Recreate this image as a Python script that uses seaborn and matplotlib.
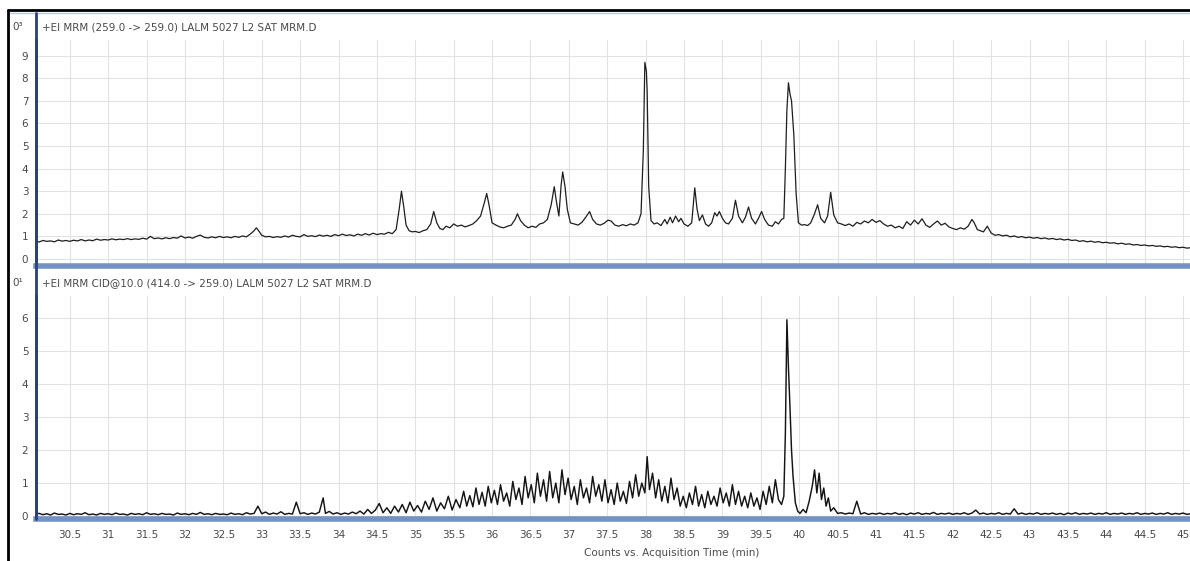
import matplotlib
matplotlib.use("Agg")
import matplotlib.pyplot as plt
from matplotlib.lines import Line2D
import seaborn as sns
import pandas as pd

# ---------------- data (counts x10^n vs. acquisition time, min) ----------------
upper_time = [
    30.05, 30.1, 30.15, 30.2, 30.25, 30.3, 30.35, 30.4, 30.45, 30.5, 30.55, 30.6, 30.65, 30.7, 30.75,
    30.8, 30.85, 30.9, 30.95, 31.0, 31.05, 31.1, 31.15, 31.2, 31.25, 31.3, 31.35, 31.4, 31.45, 31.5,
    31.55, 31.6, 31.65, 31.7, 31.75, 31.8, 31.85, 31.9, 31.95, 32.0, 32.05, 32.1, 32.15, 32.2, 32.25,
    32.3, 32.35, 32.4, 32.45, 32.5, 32.55, 32.6, 32.65, 32.7, 32.75, 32.8, 32.85, 32.9, 32.93, 32.97,
    33.0, 33.05, 33.1, 33.15, 33.2, 33.25, 33.3, 33.35, 33.4, 33.45, 33.5, 33.55, 33.6, 33.65, 33.7,
    33.75, 33.8, 33.85, 33.9, 33.95, 34.0, 34.05, 34.1, 34.15, 34.2, 34.25, 34.3, 34.35, 34.4, 34.45,
    34.5, 34.55, 34.6, 34.65, 34.7, 34.75, 34.79, 34.82, 34.85, 34.88, 34.92, 34.96, 35.0, 35.05, 35.1,
    35.15, 35.2, 35.24, 35.28, 35.32, 35.36, 35.4, 35.45, 35.5, 35.55, 35.6, 35.65, 35.7, 35.75, 35.8,
    35.85, 35.9, 35.93, 35.96, 36.0, 36.05, 36.1, 36.15, 36.2, 36.25, 36.3, 36.33, 36.37, 36.42, 36.47,
    36.52, 36.57, 36.62, 36.67, 36.72, 36.77, 36.81, 36.84, 36.87, 36.9, 36.92, 36.95, 36.98, 37.02,
    37.07, 37.12, 37.17, 37.22, 37.27, 37.31, 37.36, 37.41, 37.46, 37.51, 37.55, 37.6, 37.65, 37.7,
    37.75, 37.8, 37.85, 37.9, 37.94, 37.97, 37.99, 38.01, 38.02, 38.04, 38.07, 38.11, 38.15, 38.2,
    38.25, 38.28, 38.32, 38.35, 38.39, 38.43, 38.46, 38.5, 38.55, 38.6, 38.64, 38.67, 38.7, 38.74,
    38.78, 38.82, 38.86, 38.9, 38.93, 38.96, 39.0, 39.04, 39.08, 39.13, 39.17, 39.21, 39.26, 39.3,
    39.34, 39.38, 39.43, 39.47, 39.51, 39.55, 39.6, 39.65, 39.69, 39.73, 39.77, 39.8, 39.82, 39.84,
    39.86, 39.88, 39.9, 39.93, 39.96, 39.99, 40.03, 40.07, 40.11, 40.15, 40.2, 40.24, 40.28, 40.33,
    40.37, 40.41, 40.45, 40.5, 40.55, 40.6, 40.65, 40.7, 40.75, 40.8, 40.85, 40.9, 40.95, 41.0, 41.05,
    41.1, 41.15, 41.2, 41.25, 41.3, 41.35, 41.4, 41.45, 41.5, 41.55, 41.6, 41.65, 41.7, 41.75, 41.8,
    41.85, 41.9, 41.95, 42.0, 42.05, 42.1, 42.15, 42.2, 42.25, 42.28, 42.32, 42.36, 42.4, 42.45, 42.5,
    42.55, 42.6, 42.65, 42.7, 42.75, 42.8, 42.85, 42.9, 42.95, 43.0, 43.05, 43.1, 43.15, 43.2, 43.25,
    43.3, 43.35, 43.4, 43.45, 43.5, 43.55, 43.6, 43.65, 43.7, 43.75, 43.8, 43.85, 43.9, 43.95, 44.0,
    44.05, 44.1, 44.15, 44.2, 44.25, 44.3, 44.35, 44.4, 44.45, 44.5, 44.55, 44.6, 44.65, 44.7, 44.75,
    44.8, 44.85, 44.9, 44.95, 45.0, 45.05, 45.1,
]
upper_counts = [
    0.80, 0.75, 0.82, 0.78, 0.80, 0.76, 0.84, 0.79, 0.82, 0.78, 0.83, 0.80, 0.86, 0.80, 0.84,
    0.81, 0.88, 0.83, 0.86, 0.84, 0.89, 0.85, 0.88, 0.86, 0.90, 0.86, 0.89, 0.87, 0.92, 0.88,
    1.00, 0.90, 0.93, 0.89, 0.94, 0.90, 0.95, 0.92, 1.02, 0.93, 0.97, 0.92, 1.00, 1.06, 0.96,
    0.93, 0.98, 0.94, 1.00, 0.95, 0.98, 0.94, 1.00, 0.96, 1.02, 0.98, 1.10, 1.25, 1.38, 1.20,
    1.05, 0.98, 1.00, 0.95, 0.99, 0.96, 1.02, 0.97, 1.05, 1.00, 0.98, 1.08, 1.00, 1.03, 0.99,
    1.06, 1.01, 1.05, 1.00, 1.08, 1.03, 1.10, 1.04, 1.07, 1.02, 1.10, 1.05, 1.12, 1.06, 1.14,
    1.08, 1.12, 1.10, 1.18, 1.12, 1.30, 2.20, 3.00, 2.30, 1.50, 1.25, 1.20, 1.22, 1.17, 1.25,
    1.30, 1.55, 2.10, 1.60, 1.35, 1.30, 1.45, 1.38, 1.55, 1.45, 1.50, 1.42, 1.48, 1.55, 1.70,
    1.90, 2.50, 2.90, 2.40, 1.60, 1.50, 1.42, 1.38, 1.45, 1.50, 1.75, 2.00, 1.70, 1.50, 1.38,
    1.45, 1.40, 1.55, 1.60, 1.75, 2.40, 3.20, 2.50, 1.90, 3.30, 3.85, 3.20, 2.20, 1.60,
    1.55, 1.50, 1.62, 1.85, 2.10, 1.75, 1.55, 1.50, 1.58, 1.72, 1.68, 1.50, 1.45, 1.52,
    1.47, 1.55, 1.50, 1.60, 2.00, 4.80, 8.70, 8.30, 7.40, 3.20, 1.70, 1.55, 1.60, 1.48,
    1.75, 1.55, 1.85, 1.60, 1.90, 1.65, 1.80, 1.55, 1.45, 1.60, 3.15, 2.20, 1.70, 1.95,
    1.55, 1.45, 1.60, 2.05, 1.90, 2.10, 1.80, 1.60, 1.55, 1.80, 2.60, 1.90, 1.60, 1.85,
    2.30, 1.80, 1.55, 1.80, 2.10, 1.75, 1.50, 1.45, 1.65, 1.55, 1.75, 1.80, 4.00, 6.60,
    7.80, 7.30, 7.00, 5.50, 2.90, 1.60, 1.50, 1.52, 1.48, 1.60, 2.00, 2.40, 1.80, 1.60,
    1.90, 2.95, 1.95, 1.60, 1.55, 1.48, 1.55, 1.45, 1.62, 1.55, 1.68, 1.60, 1.75, 1.62, 1.70,
    1.55, 1.45, 1.50, 1.38, 1.45, 1.35, 1.65, 1.50, 1.72, 1.55, 1.78, 1.50, 1.40, 1.55, 1.68,
    1.50, 1.58, 1.42, 1.35, 1.30, 1.38, 1.32, 1.45, 1.75, 1.60, 1.30, 1.25, 1.20, 1.45, 1.15,
    1.05, 1.08, 1.02, 1.05, 0.98, 1.02, 0.96, 0.99, 0.94, 0.97, 0.92, 0.95, 0.90, 0.93, 0.88,
    0.91, 0.86, 0.89, 0.84, 0.87, 0.82, 0.84, 0.78, 0.81, 0.76, 0.79, 0.74, 0.77, 0.72, 0.74,
    0.70, 0.72, 0.67, 0.70, 0.65, 0.67, 0.62, 0.64, 0.60, 0.62, 0.58, 0.60, 0.56, 0.58, 0.54,
    0.56, 0.52, 0.54, 0.50, 0.52, 0.48, 0.50,
]

lower_time = [
    30.05, 30.1, 30.15, 30.2, 30.25, 30.3, 30.35, 30.4, 30.45, 30.5, 30.55, 30.6, 30.65, 30.7, 30.75,
    30.8, 30.85, 30.9, 30.95, 31.0, 31.05, 31.1, 31.15, 31.2, 31.25, 31.3, 31.35, 31.4, 31.45, 31.5,
    31.55, 31.6, 31.65, 31.7, 31.75, 31.8, 31.85, 31.9, 31.95, 32.0, 32.05, 32.1, 32.15, 32.2, 32.25,
    32.3, 32.35, 32.4, 32.45, 32.5, 32.55, 32.6, 32.65, 32.7, 32.75, 32.8, 32.85, 32.9, 32.95, 33.0,
    33.05, 33.1, 33.15, 33.2, 33.25, 33.3, 33.35, 33.4, 33.45, 33.5, 33.55, 33.6, 33.65, 33.7, 33.75,
    33.8, 33.83, 33.88, 33.93, 33.98, 34.03, 34.08, 34.13, 34.18, 34.23, 34.28, 34.33, 34.38, 34.43,
    34.48, 34.53, 34.58, 34.63, 34.68, 34.73, 34.78, 34.83, 34.88, 34.93, 34.98, 35.03, 35.08, 35.13,
    35.18, 35.23, 35.28, 35.33, 35.38, 35.43, 35.48, 35.53, 35.58, 35.63, 35.67, 35.71, 35.75, 35.79,
    35.83, 35.87, 35.91, 35.95, 35.99, 36.03, 36.07, 36.11, 36.15, 36.19, 36.23, 36.27, 36.31, 36.35,
    36.39, 36.43, 36.47, 36.51, 36.55, 36.59, 36.63, 36.67, 36.71, 36.75, 36.79, 36.83, 36.87, 36.91,
    36.95, 36.99, 37.03, 37.07, 37.11, 37.15, 37.19, 37.23, 37.27, 37.31, 37.35, 37.39, 37.43, 37.47,
    37.51, 37.55, 37.59, 37.63, 37.67, 37.71, 37.75, 37.79, 37.83, 37.87, 37.91, 37.95, 37.99, 38.02,
    38.05, 38.09, 38.13, 38.17, 38.21, 38.25, 38.29, 38.33, 38.37, 38.41, 38.45, 38.49, 38.53, 38.57,
    38.61, 38.65, 38.69, 38.73, 38.77, 38.81, 38.85, 38.89, 38.93, 38.97, 39.01, 39.05, 39.09, 39.13,
    39.17, 39.21, 39.25, 39.29, 39.33, 39.37, 39.41, 39.45, 39.49, 39.53, 39.57, 39.61, 39.65, 39.69,
    39.73, 39.77, 39.8, 39.82, 39.84, 39.86, 39.88, 39.9, 39.92, 39.95, 39.98, 40.01, 40.05, 40.09,
    40.13, 40.17, 40.2, 40.23, 40.26, 40.29, 40.32, 40.35, 40.38, 40.41, 40.45, 40.5, 40.55, 40.6,
    40.65, 40.7, 40.75, 40.8, 40.85, 40.9, 40.95, 41.0, 41.05, 41.1, 41.15, 41.2, 41.25, 41.3, 41.35,
    41.4, 41.45, 41.5, 41.55, 41.6, 41.65, 41.7, 41.75, 41.8, 41.85, 41.9, 41.95, 42.0, 42.05, 42.1,
    42.15, 42.2, 42.25, 42.3, 42.35, 42.4, 42.45, 42.5, 42.55, 42.6, 42.65, 42.7, 42.75, 42.8, 42.85,
    42.9, 42.95, 43.0, 43.05, 43.1, 43.15, 43.2, 43.25, 43.3, 43.35, 43.4, 43.45, 43.5, 43.55, 43.6,
    43.65, 43.7, 43.75, 43.8, 43.85, 43.9, 43.95, 44.0, 44.05, 44.1, 44.15, 44.2, 44.25, 44.3, 44.35,
    44.4, 44.45, 44.5, 44.55, 44.6, 44.65, 44.7, 44.75, 44.8, 44.85, 44.9, 44.95, 45.0, 45.05, 45.1,
]
lower_counts = [
    0.05, 0.08, 0.04, 0.07, 0.03, 0.09, 0.05, 0.06, 0.03, 0.08, 0.04, 0.07, 0.05, 0.10, 0.04,
    0.06, 0.03, 0.08, 0.05, 0.07, 0.04, 0.09, 0.05, 0.06, 0.03, 0.08, 0.05, 0.07, 0.04, 0.10,
    0.05, 0.07, 0.04, 0.08, 0.05, 0.06, 0.03, 0.09, 0.05, 0.07, 0.04, 0.08, 0.05, 0.11, 0.05,
    0.07, 0.04, 0.08, 0.05, 0.06, 0.04, 0.09, 0.05, 0.07, 0.04, 0.10, 0.06, 0.08, 0.30, 0.07,
    0.12, 0.05, 0.09, 0.06, 0.13, 0.05, 0.08, 0.06, 0.42, 0.07, 0.10, 0.05, 0.09, 0.06, 0.12,
    0.55, 0.08, 0.14, 0.06, 0.10, 0.05, 0.09, 0.06, 0.12, 0.07, 0.15, 0.06, 0.20, 0.08,
    0.18, 0.38, 0.10, 0.25, 0.08, 0.30, 0.12, 0.35, 0.10, 0.42, 0.15, 0.32, 0.12, 0.45,
    0.20, 0.55, 0.15, 0.40, 0.22, 0.60, 0.18, 0.50, 0.25, 0.75, 0.30, 0.62, 0.28, 0.85,
    0.35, 0.72, 0.30, 0.90, 0.40, 0.78, 0.35, 0.95, 0.45, 0.70, 0.30, 1.05, 0.50, 0.85,
    0.35, 1.20, 0.55, 0.95, 0.40, 1.30, 0.60, 1.10, 0.45, 1.35, 0.55, 1.00, 0.40, 1.40,
    0.65, 1.15, 0.50, 0.90, 0.35, 1.10, 0.55, 0.85, 0.40, 1.20, 0.60, 0.95, 0.45, 1.10,
    0.40, 0.80, 0.35, 1.00, 0.45, 0.75, 0.38, 1.05, 0.55, 1.25, 0.60, 1.00, 0.70, 1.80,
    0.80, 1.30, 0.55, 1.10, 0.45, 0.90, 0.40, 1.15, 0.50, 0.85, 0.30, 0.60, 0.25, 0.70,
    0.35, 0.90, 0.30, 0.65, 0.25, 0.75, 0.35, 0.60, 0.30, 0.85, 0.40, 0.70, 0.30, 0.95,
    0.35, 0.75, 0.30, 0.60, 0.25, 0.70, 0.30, 0.55, 0.20, 0.75, 0.35, 0.90, 0.40, 1.10,
    0.50, 0.35, 0.60, 2.50, 5.95, 4.50, 3.30, 2.00, 1.20, 0.40, 0.15, 0.08, 0.20, 0.10,
    0.45, 0.90, 1.40, 0.70, 1.30, 0.50, 0.85, 0.30, 0.55, 0.15, 0.25, 0.08, 0.10, 0.06,
    0.09, 0.07, 0.45, 0.06, 0.10, 0.05, 0.08, 0.06, 0.09, 0.05, 0.08, 0.06, 0.10, 0.05, 0.08,
    0.04, 0.09, 0.06, 0.10, 0.05, 0.08, 0.06, 0.11, 0.05, 0.08, 0.06, 0.09, 0.05, 0.08, 0.06,
    0.10, 0.05, 0.09, 0.18, 0.06, 0.09, 0.05, 0.08, 0.06, 0.10, 0.05, 0.08, 0.06, 0.22, 0.06,
    0.09, 0.05, 0.08, 0.06, 0.10, 0.05, 0.08, 0.06, 0.09, 0.05, 0.08, 0.04, 0.09, 0.06, 0.10,
    0.05, 0.08, 0.06, 0.09, 0.05, 0.08, 0.06, 0.10, 0.05, 0.08, 0.06, 0.09, 0.05, 0.08, 0.06,
    0.10, 0.05, 0.08, 0.06, 0.09, 0.05, 0.08, 0.06, 0.10, 0.05, 0.08, 0.06, 0.09, 0.05, 0.07,
]

upper_title = "+EI MRM (259.0 -> 259.0) LALM 5027 L2 SAT MRM.D"
lower_title = "+EI MRM CID@10.0 (414.0 -> 259.0) LALM 5027 L2 SAT MRM.D"
upper_exp = "0\u00b3"
lower_exp = "0\u00b9"
x_ticks = [30.5, 31, 31.5, 32, 32.5, 33, 33.5, 34, 34.5, 35, 35.5, 36, 36.5, 37, 37.5, 38,
           38.5, 39, 39.5, 40, 40.5, 41, 41.5, 42, 42.5, 43, 43.5, 44, 44.5, 45]
x_tick_labels = ["30.5", "31", "31.5", "32", "32.5", "33", "33.5", "34", "34.5", "35", "35.5",
                 "36", "36.5", "37", "37.5", "38", "38.5", "39", "39.5", "40", "40.5", "41",
                 "41.5", "42", "42.5", "43", "43.5", "44", "44.5", "45"]
upper_yticks = [0, 1, 2, 3, 4, 5, 6, 7, 8, 9]
lower_yticks = [0, 1, 2, 3, 4, 5, 6]
x_label = "Counts vs. Acquisition Time (min)"

# ---------------- figure ----------------
sns.set_style("white")
plt.rcParams["font.family"] = ["DejaVu Sans"]

W, H = 1190, 561
fig = plt.figure(figsize=(W / 100, H / 100), dpi=100)
fig.patch.set_facecolor("white")


def box(x0, y0, x1, y1):
    return [x0 / W, 1 - y1 / H, (x1 - x0) / W, (y1 - y0) / H]


def fx(x):
    return x / W


def fy(y):
    return 1 - y / H


ax1 = fig.add_axes(box(36, 40, 1190, 266))
ax2 = fig.add_axes(box(36, 296, 1190, 519))

df_u = pd.DataFrame({"t": upper_time, "c": upper_counts})
df_l = pd.DataFrame({"t": lower_time, "c": lower_counts})

sns.lineplot(data=df_u, x="t", y="c", ax=ax1, color="#1e1e1e", linewidth=0.9,
             estimator=None, sort=False)
sns.lineplot(data=df_l, x="t", y="c", ax=ax2, color="#141414", linewidth=1.05,
             estimator=None, sort=False)

AXIS_BLUE = "#2c3f7e"
BAR_BLUE = "#7391c4"
GRID = "#e2e2e2"
TXT = "#4a4a4a"

for ax, yt, ylim in ((ax1, upper_yticks, (-0.31, 9.69)), (ax2, lower_yticks, (-0.09, 6.67))):
    ax.set_xlim(30.06, 45.09)
    ax.set_ylim(*ylim)
    ax.set_xticks(x_ticks)
    ax.set_yticks(yt)
    ax.set_yticklabels([str(v) for v in yt])
    ax.grid(True, color=GRID, linewidth=0.8)
    ax.set_axisbelow(True)
    ax.set_xlabel("")
    ax.set_ylabel("")
    for s in ("top", "right"):
        ax.spines[s].set_visible(False)
    ax.spines["left"].set_color(AXIS_BLUE)
    ax.spines["left"].set_linewidth(2.0)
    ax.spines["bottom"].set_color(BAR_BLUE)
    ax.spines["bottom"].set_linewidth(4.0)
    ax.tick_params(axis="y", length=4, width=1.0, color=AXIS_BLUE, labelsize=7.5,
                   labelcolor=TXT, pad=1.5)

ax1.tick_params(axis="x", length=0, labelbottom=False)
ax2.set_xticklabels(x_tick_labels)
ax2.tick_params(axis="x", length=5, width=1.0, color="#5a5a5a", labelsize=7.5,
                labelcolor=TXT, pad=3)

# title strips and exponent labels
fig.text(fx(42), fy(27), upper_title, fontsize=7.5, color=TXT, va="center", ha="left")
fig.text(fx(42), fy(283), lower_title, fontsize=7.5, color=TXT, va="center", ha="left")
fig.text(fx(12), fy(27), upper_exp, fontsize=7.5, color=TXT, va="center", ha="left")
fig.text(fx(12), fy(283), lower_exp, fontsize=7.5, color=TXT, va="center", ha="left")
fig.text(fx(672), fy(553), x_label, fontsize=7.5, color=TXT, va="center", ha="center")

# window frame and continuous left axis line
fig.add_artist(Line2D([fx(8), fx(1190)], [fy(10), fy(10)], color="black", linewidth=2.0))
fig.add_artist(Line2D([fx(8), fx(8)], [fy(10), fy(561)], color="black", linewidth=2.0))
fig.add_artist(Line2D([fx(10), fx(1190)], [fy(12.5), fy(12.5)], color="#b9c8ea", linewidth=1.0))
fig.add_artist(Line2D([fx(36), fx(36)], [fy(13), fy(519)], color=AXIS_BLUE, linewidth=2.0))

fig.savefig("out.png", dpi=100)
